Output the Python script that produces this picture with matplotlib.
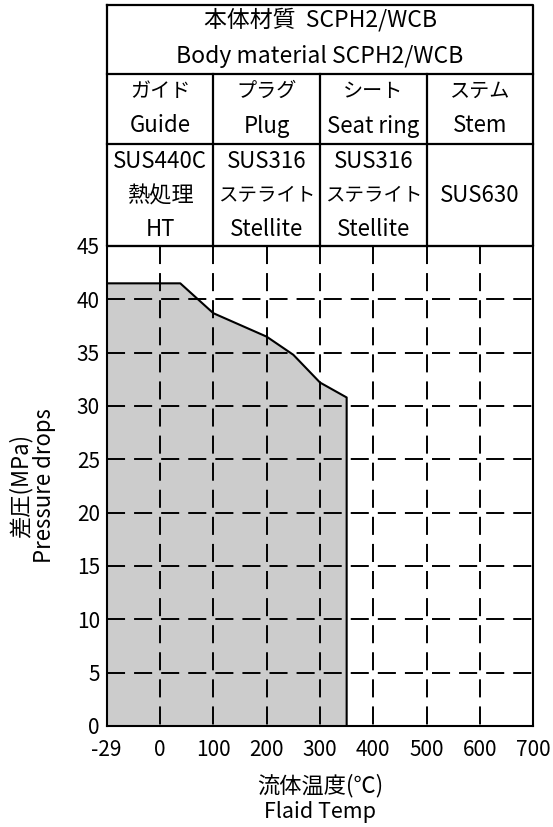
import matplotlib
matplotlib.use("Agg")
import matplotlib.pyplot as plt
import numpy as np

plt.rcParams['font.family'] = ['Noto Sans CJK JP', 'DejaVu Sans']
plt.rcParams['lines.scale_dashes'] = False

# temperature axis (uneven: -29 to 0 gets one full step)
temp_ticks = [-29, 0, 100, 200, 300, 400, 500, 600, 700]
temp_pos = [0, 1, 2, 3, 4, 5, 6, 7, 8]
press_ticks = [0, 5, 10, 15, 20, 25, 30, 35, 40, 45]

# usable range outline (°C, MPa)
curve_temp = [-29, 38, 100, 200, 250, 300, 350, 350]
curve_press = [41.5, 41.5, 38.7, 36.5, 34.8, 32.2, 30.8, 0]

# material table
body_jp = "本体材質  SCPH2/WCB"
body_en = "Body material SCPH2/WCB"
part_jp = ["ガイド", "プラグ", "シート", "ステム"]
part_en = ["Guide", "Plug", "Seat ring", "Stem"]
material = [["SUS440C", "熱処理", "HT"],
            ["SUS316", "ステライト", "Stellite"],
            ["SUS316", "ステライト", "Stellite"],
            ["", "SUS630", ""]]


def fwd(t):
    return np.interp(t, temp_ticks, temp_pos)


def inv(p):
    return np.interp(p, temp_pos, temp_ticks)


def text_size(s):
    # katakana is narrower in the original (proportional gothic)
    if any('\u30a0' <= ch <= '\u30ff' for ch in s):
        return 14.5 if len(s) <= 3 else 14
    return 16


W, H = 553, 827
fig = plt.figure(figsize=(W / 100, H / 100), dpi=100)

# axes box in pixels
x0, x1 = 106.7, 533.3
y_top, y_bot = 246, 726
ax = fig.add_axes([x0 / W, 1 - y_bot / H, (x1 - x0) / W, (y_bot - y_top) / H])
ax.set_xscale('function', functions=(fwd, inv))
ax.set_xlim(-29, 700)
ax.set_ylim(0, 45)

xs = list(curve_temp) + [-29]
ys = list(curve_press) + [0]
ax.fill(xs, ys, facecolor='#cccccc', edgecolor='none', zorder=1)
ax.plot(curve_temp, curve_press, color='black', lw=1.5, zorder=3)

dash = (0, (13, 6.5))
for t in temp_ticks[1:-1]:
    ax.plot([t, t], [45, 0], color='black', lw=1.4, linestyle=dash, zorder=2)
for p in press_ticks[1:-1]:
    ax.plot([-29, 700], [p, p], color='black', lw=1.4, linestyle=dash, zorder=2)

ax.set_xticks(temp_ticks)
ax.set_xticklabels([str(t) for t in temp_ticks])
ax.set_yticks(press_ticks)
ax.minorticks_off()
ax.tick_params(length=0, labelsize=15)
ax.tick_params(axis='x', pad=9)
ax.tick_params(axis='y', pad=5)
for s in ax.spines.values():
    s.set_linewidth(1.5)

# axis titles (two lines each)
fig.text(21 / W, 1 - 486 / H, "差圧(MPa)", rotation=90, ha='center', va='center', fontsize=16)
fig.text(45 / W, 1 - 486 / H, "Pressure drops", rotation=90, ha='center', va='center', fontsize=16)
fig.text(320 / W, 1 - 786 / H, "流体温度(℃)", ha='center', va='center', fontsize=16)
fig.text(320 / W, 1 - 812 / H, "Flaid Temp", ha='center', va='center', fontsize=15.5)

# material table above the chart
tab = fig.add_axes([x0 / W, 1 - y_top / H, (x1 - x0) / W, (y_top - 5) / H])
tab.set_xlim(0, 4)
tab.set_ylim(y_top, 5)
tab.axis('off')
lw = 1.6
tab.plot([0, 4, 4, 0, 0], [5, 5, y_top, y_top, 5], color='black', lw=lw, clip_on=False)
tab.plot([0, 4], [74, 74], color='black', lw=lw, clip_on=False)
tab.plot([0, 4], [144, 144], color='black', lw=lw, clip_on=False)
for c in [1, 2, 3]:
    tab.plot([c, c], [74, y_top], color='black', lw=lw, clip_on=False)

fs = 16.5
tab.text(2, 20, body_jp, ha='center', va='center', fontsize=fs)
tab.text(2, 57, body_en, ha='center', va='center', fontsize=fs)
for i in range(4):
    tab.text(i + 0.5, 91, part_jp[i], ha='center', va='center', fontsize=text_size(part_jp[i]))
    tab.text(i + 0.5, 126, part_en[i], ha='center', va='center', fontsize=16)
    for j, yy in enumerate([161, 196, 229]):
        txt = material[i][j]
        tab.text(i + 0.5, yy, txt, ha='center', va='center', fontsize=text_size(txt))

fig.savefig("out.png", dpi=100)
